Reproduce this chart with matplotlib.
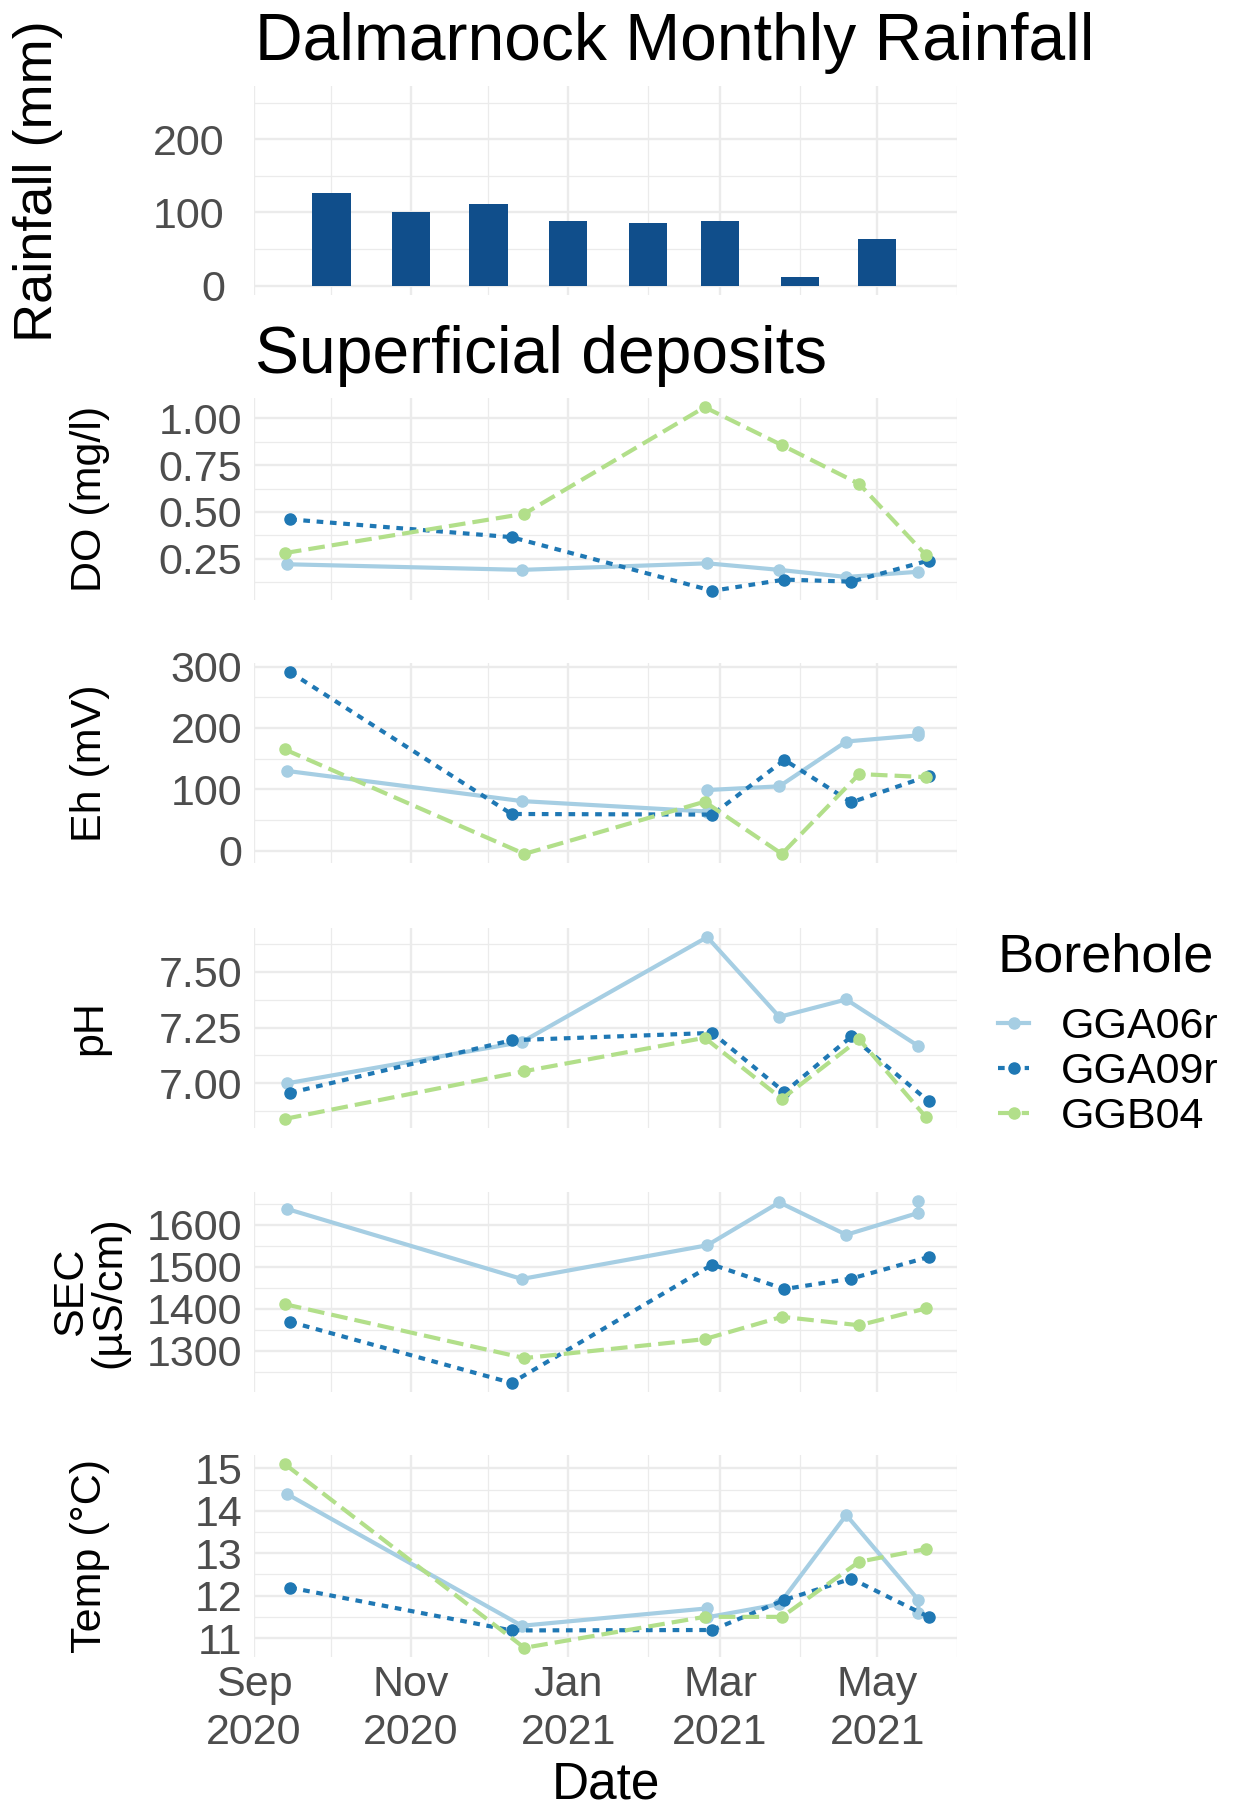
import numpy as np
import pandas as pd
import matplotlib
matplotlib.use("Agg")
import matplotlib.pyplot as plt
import matplotlib.dates as mdates
from matplotlib.lines import Line2D

plt.rcParams['font.family'] = ['Liberation Sans', 'DejaVu Sans']

# monthly rainfall
rain_months = ["2020-10-01", "2020-11-01", "2020-12-01", "2021-01-01",
               "2021-02-01", "2021-03-01", "2021-04-01", "2021-05-01"]
rain_mm = [126, 101, 111, 88, 85, 88, 12, 64]

# sampling dates per borehole
boreholes = ["GGA06r", "GGA09r", "GGB04"]
dates_a06 = ["2020-09-14", "2020-12-14", "2021-02-24", "2021-02-24",
             "2021-03-24", "2021-04-19", "2021-05-17", "2021-05-17"]
dates_a09 = ["2020-09-15", "2020-12-10", "2021-02-26", "2021-03-26",
             "2021-04-21", "2021-05-21"]
dates_b04 = ["2020-09-13", "2020-12-15", "2021-02-23", "2021-03-25",
             "2021-04-24", "2021-05-20"]

nan = np.nan
do_a06 = [0.22, 0.19, 0.225, nan, 0.19, 0.152, 0.18, nan]
do_a09 = [0.46, 0.365, 0.078, 0.138, 0.127, 0.24]
do_b04 = [0.28, 0.49, 1.06, 0.857, 0.65, 0.268]

eh_a06 = [130, 81, 64, 99, 105, 178, 188, 193]
eh_a09 = [291, 60, 59, 148, 79, 122]
eh_b04 = [165, -5, 80, -5, 125, 120]

ph_a06 = [7.00, 7.185, 7.656, nan, 7.298, 7.376, 7.167, nan]
ph_a09 = [6.957, 7.193, 7.226, 6.96, 7.21, 6.919]
ph_b04 = [6.84, 7.054, 7.204, 6.93, 7.197, 6.847]

sec_a06 = [1637, 1471, 1551, nan, 1653, 1576, 1628, 1656]
sec_a09 = [1369, 1224, 1505, 1447, 1472, 1523]
sec_b04 = [1411, 1283, 1328, 1381, 1361, 1401]

temp_a06 = [14.39, 11.29, 11.70, 11.49, 11.8, 13.9, 11.9, 11.6]
temp_a09 = [12.19, 11.18, 11.19, 11.9, 12.4, 11.5]
temp_b04 = [15.1, 10.77, 11.5, 11.5, 12.8, 13.1]

colors = {"GGA06r": "#A6CEE3", "GGA09r": "#1F78B4", "GGB04": "#B2DF8A"}
styles = {"GGA06r": dict(ls="-"),
          "GGA09r": dict(ls=(0, (1.6, 1.6))),
          "GGB04": dict(ls=(0, (4.0, 1.7)))}
bh_dates = {"GGA06r": dates_a06, "GGA09r": dates_a09, "GGB04": dates_b04}

panels = [
    ("DO (mg/l)", {"GGA06r": do_a06, "GGA09r": do_a09, "GGB04": do_b04},
     [0.25, 0.5, 0.75, 1.0], ["0.25", "0.50", "0.75", "1.00"], 0.125, (398, 600)),
    ("Eh (mV)", {"GGA06r": eh_a06, "GGA09r": eh_a09, "GGB04": eh_b04},
     [0, 100, 200, 300], ["0", "100", "200", "300"], 50, (663, 863)),
    ("pH", {"GGA06r": ph_a06, "GGA09r": ph_a09, "GGB04": ph_b04},
     [7.0, 7.25, 7.5], ["7.00", "7.25", "7.50"], 0.125, (928, 1128)),
    ("SEC\n(µS/cm)", {"GGA06r": sec_a06, "GGA09r": sec_a09, "GGB04": sec_b04},
     [1300, 1400, 1500, 1600], ["1300", "1400", "1500", "1600"], 50, (1192, 1392)),
    ("Temp (°C)", {"GGA06r": temp_a06, "GGA09r": temp_a09, "GGB04": temp_b04},
     [11, 12, 13, 14, 15], ["11", "12", "13", "14", "15"], 0.5, (1455, 1657)),
]

W, H = 1240, 1807
fig = plt.figure(figsize=(W / 100, H / 100), dpi=100)
LEFT, RIGHT = 254, 957
xmin, xmax = pd.Timestamp("2020-09-01"), pd.Timestamp("2021-06-01")
GRID = "#EBEBEB"
TICKC = "#4D4D4D"
LW, MS = 3.0, 8


def make_ax(top, bottom):
    ax = fig.add_axes([LEFT / W, 1 - bottom / H, (RIGHT - LEFT) / W, (bottom - top) / H])
    for s in ax.spines.values():
        s.set_visible(False)
    ax.set_axisbelow(True)
    ax.xaxis.set_major_locator(mdates.MonthLocator(bymonth=[1, 3, 5, 7, 9, 11]))
    ax.xaxis.set_minor_locator(mdates.MonthLocator(bymonth=[2, 4, 6, 8, 10, 12]))
    ax.grid(which="major", color=GRID, lw=1.7)
    ax.grid(which="minor", color=GRID, lw=0.9)
    ax.tick_params(which="both", length=0, labelsize=31, labelcolor=TICKC)
    ax.set_xlim(xmin, xmax)
    return ax


# rainfall panel
ax = make_ax(86, 295)
ax.bar(pd.to_datetime(rain_months), rain_mm, width=15, color="#104E8B")
ax.set_ylim(-13, 273)
ax.set_yticks([0, 100, 200])
ax.set_yticks([50, 150, 250], minor=True)
ax.tick_params(axis="y", pad=21)
ax.tick_params(axis="x", labelbottom=False)
ax.set_ylabel("Rainfall (mm)", fontsize=39, va="center")
ax.yaxis.set_label_coords(-0.307, 0.545)

fig.text(255 / W, 1 - 60 / H, "Dalmarnock Monthly Rainfall", fontsize=47.5, va="baseline")
fig.text(255 / W, 1 - 373 / H, "Superficial deposits", fontsize=47.5, va="baseline")

for i, (label, data, ticks, ticklabels, minor_step, (top, bottom)) in enumerate(panels):
    ax = make_ax(top, bottom)
    for bh in boreholes:
        d = pd.to_datetime(bh_dates[bh])
        v = np.array(data[bh], dtype=float)
        ok = ~np.isnan(v)
        ax.plot(d[ok], v[ok], color=colors[bh], lw=LW, marker="o", ms=MS,
                dash_capstyle="butt", **styles[bh])
    ax.margins(y=0.05)
    lo, hi = ax.get_ylim()
    ax.set_yticks(ticks)
    ax.set_yticklabels(ticklabels)
    mt = np.arange(ticks[0] - minor_step, ticks[-1] + 2 * minor_step, minor_step)
    ax.set_yticks([m for m in mt if lo <= m <= hi and not np.any(np.isclose(m, ticks))], minor=True)
    ax.set_ylim(lo, hi)
    ax.tick_params(axis="y", pad=8.5)
    ax.set_ylabel(label, fontsize=31, va="center", linespacing=0.95)
    ax.yaxis.set_label_coords(-0.233, 0.5)
    if i < len(panels) - 1:
        ax.tick_params(axis="x", labelbottom=False)
    else:
        ax.xaxis.set_major_formatter(mdates.DateFormatter("%b\n%Y"))
        for t in ax.get_xticklabels():
            t.set_linespacing(1.25)
        ax.tick_params(axis="x", pad=6)
        ax.set_xlabel("Date", fontsize=37, labelpad=5)

# legend
fig.text(997 / W, 1 - 972 / H, "Borehole", fontsize=39, va="baseline")
handles = [Line2D([], [], color=colors[bh], lw=LW, marker="o", ms=MS, **styles[bh])
           for bh in boreholes]
leg = fig.legend(handles, boreholes, loc="upper left",
                 bbox_to_anchor=(998 / W, 1 - 1007 / H), frameon=False, fontsize=31,
                 handlelength=0.72, handletextpad=0.75, labelspacing=0.12,
                 borderpad=0, borderaxespad=0)

fig.savefig("out.png", dpi=100)
